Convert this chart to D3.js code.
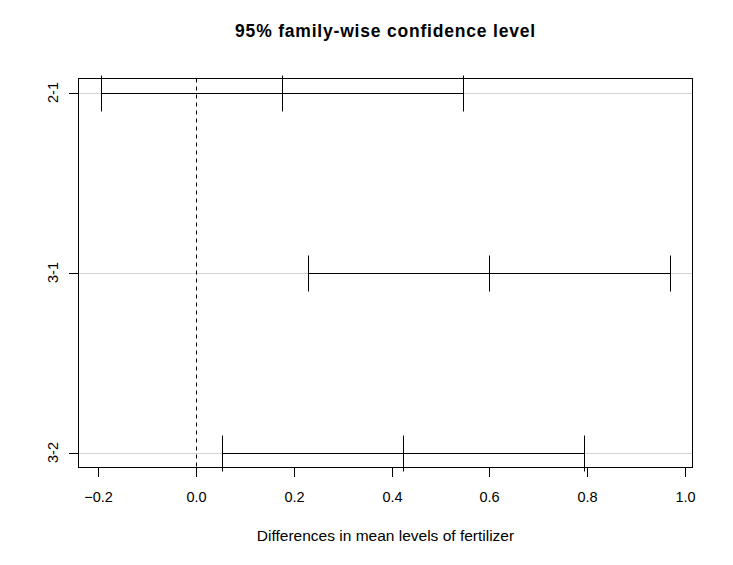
<!DOCTYPE html>
<html><head><meta charset="utf-8">
<script src="https://cdn.jsdelivr.net/npm/d3@7"></script>
<style>body{margin:0;background:#fff}svg{display:block}text{font-family:"Liberation Sans",Arial,sans-serif}</style>
</head><body>
<svg id="c" width="733" height="565"></svg>
<script>
const comparisons = ["2-1", "3-1", "3-2"];
const diffs = [0.1761667, 0.5991667, 0.4230000];
const lowers = [-0.1937, 0.2293, 0.0531];
const uppers = [0.5461, 0.9690, 0.7929];
const xTicks = [-0.2, 0.0, 0.2, 0.4, 0.6, 0.8, 1.0];
const titleText = "95% family-wise confidence level";
const xLabel = "Differences in mean levels of fertilizer";

const svg = d3.select("#c");
const L = 78.5, R = 692.5, T = 78.5, B = 467.5;
const snap = v => Math.round(v - 0.5) + 0.5;
const xmin = d3.min(lowers), xmax = d3.max(uppers), xr = xmax - xmin;
const x = d3.scaleLinear().domain([xmin - 0.04*xr, xmax + 0.04*xr]).range([L + 0.5, R + 0.5]);
const n = comparisons.length;
const y = d3.scaleLinear().domain([1 - 0.04*(n-1), n + 0.04*(n-1)]).range([B, T + 1]);
const yv = i => n - i;
const X = v => snap(x(v)), Y = v => snap(y(v));

// grid lines
svg.append("g").selectAll("line").data(comparisons).join("line")
  .attr("x1", L).attr("x2", R)
  .attr("y1", (d,i)=>Y(yv(i))).attr("y2", (d,i)=>Y(yv(i)))
  .attr("stroke", "#d3d3d3").attr("stroke-width", 1);
// zero line
svg.append("line").attr("x1", X(0)).attr("x2", X(0)).attr("y1", T).attr("y2", B)
  .attr("stroke", "#000").attr("stroke-width", 1).attr("stroke-dasharray", "4,4");
// intervals
const g = svg.append("g").attr("stroke", "#000").attr("stroke-width", 1);
comparisons.forEach((c, i) => {
  const yy = yv(i);
  g.append("line").attr("x1", X(lowers[i])).attr("x2", X(uppers[i])).attr("y1", Y(yy)).attr("y2", Y(yy));
  [lowers[i], diffs[i], uppers[i]].forEach(v => {
    g.append("line").attr("x1", X(v)).attr("x2", X(v)).attr("y1", Y(yy-0.1)).attr("y2", Y(yy+0.1));
  });
});
// box
svg.append("rect").attr("x", L).attr("y", T).attr("width", R-L).attr("height", B-T)
  .attr("fill", "none").attr("stroke", "#000").attr("stroke-width", 1);
// x axis
const xa = svg.append("g").attr("transform", `translate(0,${B})`)
  .call(d3.axisBottom(x).tickValues(xTicks).tickFormat(d3.format(".1f")).tickSize(9.5));
xa.select(".domain").remove();
xa.selectAll(".tick").attr("transform", d => `translate(${X(d)},0)`);
xa.selectAll(".tick line").attr("stroke", "#000");
xa.selectAll("text").attr("font-size", 14.5).attr("fill", "#000")
  .attr("font-family", "Liberation Sans, Arial, sans-serif").attr("y", 34.5).attr("dy", null);
// y axis
const ya = svg.append("g");
comparisons.forEach((c, i) => {
  const yy = Y(yv(i));
  ya.append("line").attr("x1", L-9.5).attr("x2", L).attr("y1", yy).attr("y2", yy).attr("stroke", "#000");
  ya.append("text").attr("transform", `translate(57.5,${yy - 1}) rotate(-90)`)
    .attr("text-anchor", "middle").attr("font-size", 14.5).attr("fill", "#000").text(c);
});
// title
svg.append("text").attr("x", (L+R)/2).attr("y", 37).attr("text-anchor", "middle")
  .attr("font-size", 17.5).attr("font-weight", "bold").attr("letter-spacing", 0.8).text(titleText);
svg.append("text").attr("x", (L+R)/2).attr("y", 541).attr("text-anchor", "middle")
  .attr("font-size", 15.5).text(xLabel);
</script>
</body></html>
